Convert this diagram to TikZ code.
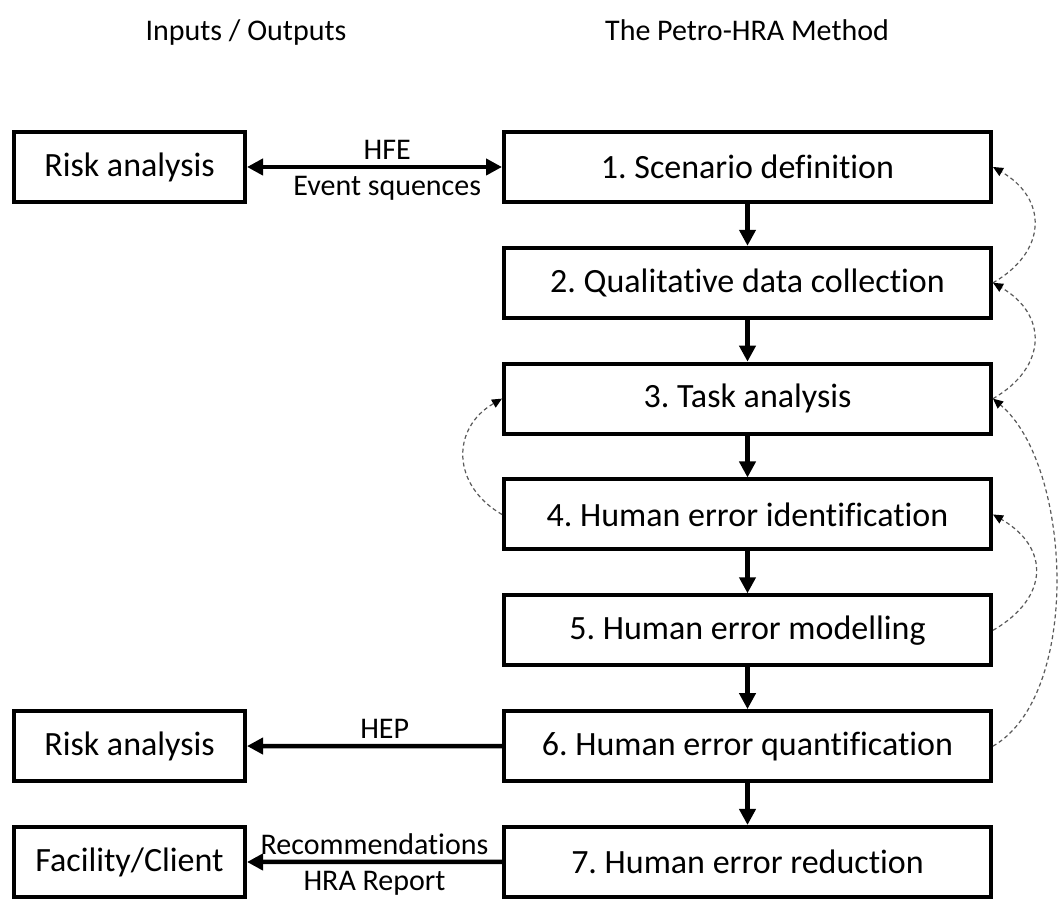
\documentclass[tikz,border=0pt]{standalone}
\usepackage{fontspec}
\setmainfont{Carlito}[Ligatures=NoCommon]
\usetikzlibrary{arrows.meta}

\tikzset{
    stepbox/.style={draw, line width=4pt, minimum width=487pt, minimum height=70pt, inner sep=0pt, font=\fontsize{34}{40}\selectfont},
    iobox/.style={stepbox, minimum width=231pt},
    flow/.style={line width=4.5pt, ->},
    feedback/.style={gray!70!black, line width=1.2pt, dash pattern=on 4pt off 3pt, -{Triangle[length=10pt,width=9pt,color=black]}},
    lbl/.style={font=\fontsize{30}{36}\selectfont},
    >={Triangle[length=16pt,width=16pt]}
}

\begin{document}
\frenchspacing
\begin{tikzpicture}[x=1pt,y=1pt]
        \useasboundingbox (0,0) rectangle (1059,902);

        % Column headings
        \node[lbl, anchor=base] (hio) at (246,861) {Inputs / Outputs};
        \node[lbl, anchor=base] (hmethod) at (747,861) {The Petro-HRA Method};

        % Method steps
        \foreach \i/\txt in {1/Scenario definition, 2/Qualitative data collection, 3/Task analysis,
                4/Human error identification, 5/Human error modelling, 6/Human error quantification,
                7/Human error reduction}
            \node[stepbox] (s\i) at (747.5, {735-115.83*(\i-1)}) {\i. \txt};

        % Inputs and outputs
        \node[iobox] (ra1) at (129.5,735) {Risk analysis};
        \node[iobox] (ra2) at (129.5,156) {Risk analysis};
        \node[iobox] (fc) at (129.5,40) {Facility/Client};

        % Main flow
        \foreach \i [evaluate=\i as \j using int(\i+1)] in {1,...,6}
            \draw[flow] (s\i.south) -- (s\j.north);

        \draw[flow, <->] (ra1) -- node[lbl, pos=.55, above=2pt] {HFE} node[lbl, pos=.55, below=4pt] {Event squences} (s1);
        \draw[flow] (s6) -- node[lbl, pos=.46, above=2pt] {HEP} (ra2);
        \draw[flow] (s7) -- node[lbl, above=2pt] {Recommendations} node[lbl, below=4pt] {HRA Report} (fc);

        % Feedback loops
        \draw[feedback] (s2.east) to[out=30, in=-30, looseness=1.4] (s1.east);
        \draw[feedback] (s3.east) to[out=30, in=-30, looseness=1.4] (s2.east);
        \draw[feedback] (s5.east) to[out=30, in=-30, looseness=1.45] (s4.east);
        \draw[feedback] (s6.east) to[out=30, in=-40, looseness=.76] (s3.east);
        \draw[feedback] (s4.west) to[out=150, in=-150, looseness=1.3] (s3.west);

    \end{tikzpicture}
\end{document}
